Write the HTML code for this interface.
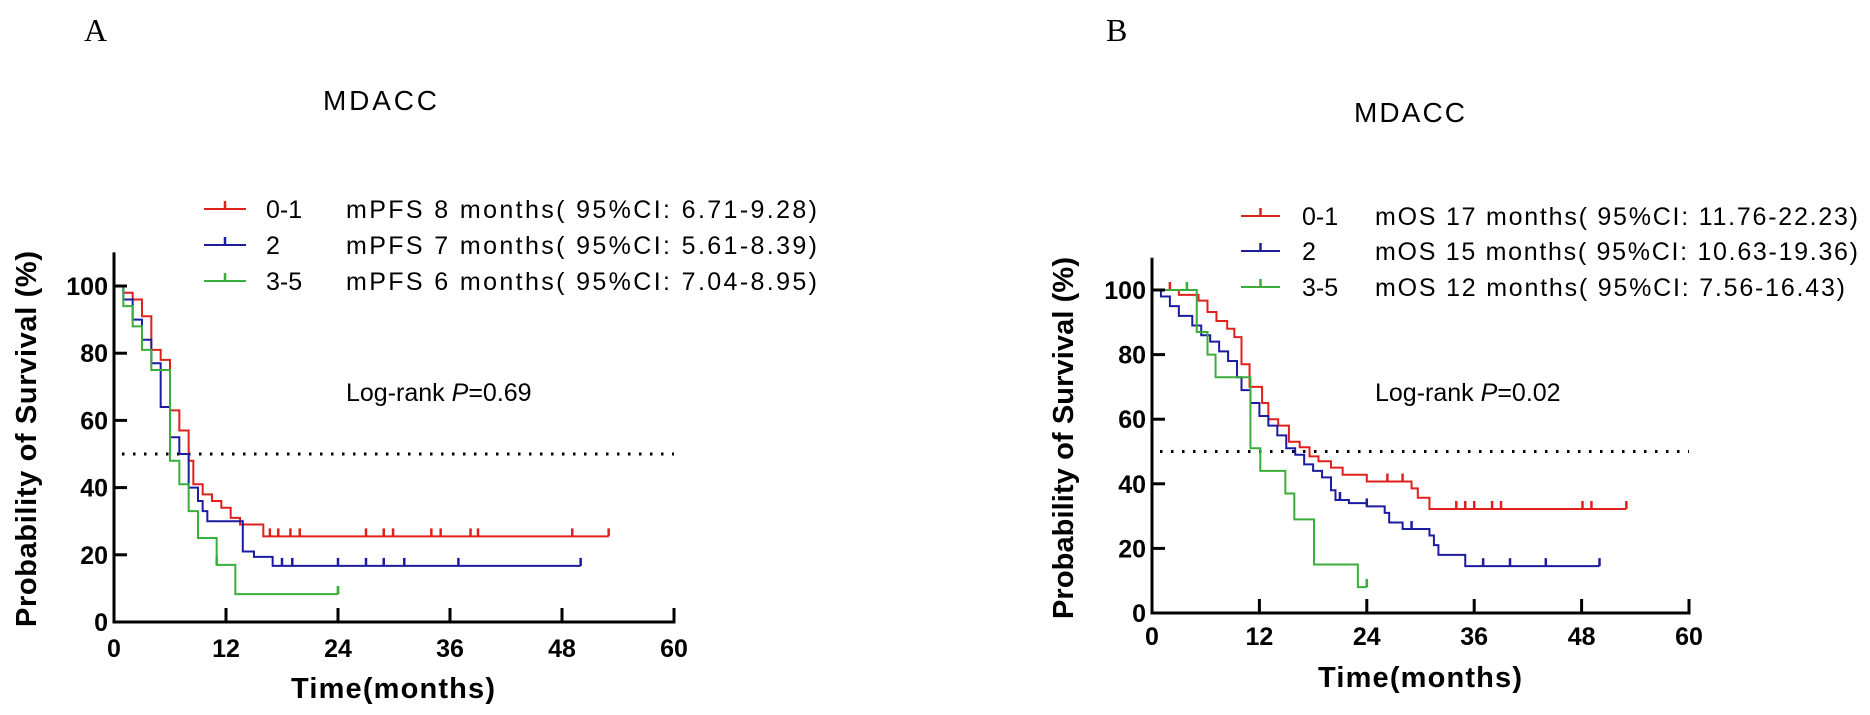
<!DOCTYPE html>
<html><head><meta charset="utf-8"><style>
html,body{margin:0;padding:0;background:#fff;}
svg{display:block;font-family:"Liberation Sans",Arial,sans-serif;}
</style></head><body>
<svg id="fig" width="1870" height="715" viewBox="0 0 1870 715">
<rect width="1870" height="715" fill="#fff"/>
<text x="84" y="41" font-family="Liberation Serif,serif" font-size="32">A</text>
<text x="1106" y="41" font-family="Liberation Serif,serif" font-size="32">B</text>
<text x="323" y="110" font-size="28" textLength="114">MDACC</text>
<text x="1354" y="122" font-size="28" textLength="111">MDACC</text>
<text x="346" y="401" font-size="25">Log-rank  <tspan font-style="italic">P</tspan>=0.69</text>
<text x="1375" y="401" font-size="25">Log-rank  <tspan font-style="italic">P</tspan>=0.02</text>
<g id="ga"></g><g id="gb"></g>
</svg>
<script>
const colors=["#e0201c","#1c1ca0","#3aae3a"];
const groups=["0-1","2","3-5"];
// Panel A (PFS)
const aRedT=[1,2,3,4,5,6,7,8,8.5,9.5,10.5,11.5,12.5,13.5,16];
const aRedS=[98,96,91,81,78,63,57,48,41,38,36,34,31,29,25.5];
const aRedC=[16.7,17.6,18.9,19.9,27,28.9,29.9,34,35,38.2,39,49.1];
const aRedEnd=53;
const aBlueT=[1,2,3,4,5,6,7,8,9,9.5,10,13.8,15,17];
const aBlueS=[96,90,84,77,64,55,50,40,36,33,30,21,19.4,16.7];
const aBlueC=[18,19.1,24,27,28.9,31.1,36.9];
const aBlueEnd=50;
const aGreenT=[1,2,3,4,6,7,8,9,11,13];
const aGreenS=[94,88,81,75,48,41,33,25,17,8.3];
const aGreenC=[11,24];
const aGreenEnd=24;
const aLegend=["mPFS 8 months( 95%CI: 6.71-9.28)","mPFS 7 months( 95%CI: 5.61-8.39)","mPFS 6 months( 95%CI: 7.04-8.95)"];
// Panel B (OS)
const bRedT=[3,5.2,6.2,7.2,8.4,9.2,10,10.9,12.3,13,14.1,15.3,16.5,17.6,18.6,20,21.3,24,29,29.7,31];
const bRedS=[98.5,96.7,93.2,90.4,88,85.4,77,70,65,60,58,53,51.3,48.5,47,45,42.8,40.7,38.6,35.7,32.2];
const bRedC=[2,26.3,28,34,35,36,38,39,48.1,49.1];
const bRedEnd=53;
const bBlueT=[1,2,3,4.5,5.5,6.5,7.5,8.5,9.5,10,11,12,13,14,15,16,17,18,19,20,20.5,22,24,26,26.5,28,31,31.5,32,35];
const bBlueS=[98,95,92,89,86,84,81,78,73,69,65,61,58,55,51,49,46,44,42,38,35,34,33,31,28,26,24,21,18,14.5];
const bBlueC=[21,24,29,37,40,44];
const bBlueEnd=50;
const bGreenT=[5,6.2,7.1,11,12.1,14.9,15.9,18.1,23];
const bGreenS=[87,80,73,51,44,37,29,15,8];
const bGreenC=[3.9,24];
const bGreenEnd=24;
const bLegend=["mOS 17 months( 95%CI: 11.76-22.23)","mOS 15 months( 95%CI: 10.63-19.36)","mOS 12 months( 95%CI: 7.56-16.43)"];
const xTicks=[0,12,24,36,48,60];
const yTicks=[0,20,40,60,80,100];

const NS="http://www.w3.org/2000/svg";
function mk(tag,attrs,parent){const e=document.createElementNS(NS,tag);for(const k in attrs)e.setAttribute(k,attrs[k]);parent.appendChild(e);return e;}

function panel(g,P,series,legend,prefix){
  const x=t=>P.x0+t*(P.x1-P.x0)/60;
  const y=s=>P.y0-s*(P.y0-P.y100)/100;
  // dotted median line
  const dl=mk('line',{x1:x(0)+8,x2:x(60),y1:y(50),y2:y(50),stroke:'#000','stroke-width':3,'stroke-dasharray':'2.5 8.5'},g);
  
  
  // series
  series.forEach((S,i)=>{
    let d='M'+x(0)+','+y(100);let cur=100;
    const pts=S.t.map((t,j)=>[t,S.s[j]]);
    pts.forEach(p=>{d+=' H'+x(p[0])+' V'+y(p[1]);cur=p[1];});
    d+=' H'+x(S.end);
    const path=mk('path',{d:d,fill:'none',stroke:colors[i],'stroke-width':2},g);
    
    
    const sv=t=>{let v=100;pts.forEach(p=>{if(p[0]<=t)v=p[1];});return v;};
    S.c.concat([S.end]).forEach(t=>{
      const c=mk('line',{x1:x(t),x2:x(t),y1:y(sv(t)),y2:y(sv(t))-8,stroke:colors[i],'stroke-width':2.5},g);
      
      
    });
  });
  // axes
  const ya=mk('line',{x1:x(0),x2:x(0),y1:y(110),y2:y(0)+1.5,stroke:'#000','stroke-width':3},g);
  
  
  const xa=mk('line',{x1:x(0)-1.5,x2:x(60)+1.5,y1:y(0),y2:y(0),stroke:'#000','stroke-width':3},g);
  
  
  yTicks.forEach(v=>{
    const tk=mk('line',{x1:x(0),x2:x(0)+13,y1:y(v),y2:y(v),stroke:'#000','stroke-width':3},g);
    
    
    const tl=mk('text',{x:x(0)-6,y:y(v)+9,'text-anchor':'end','font-size':25,'font-weight':'bold'},g);
    tl.textContent=v;
    
    
  });
  xTicks.forEach(v=>{
    const tk=mk('line',{x1:x(v),x2:x(v),y1:y(0),y2:y(0)-14,stroke:'#000','stroke-width':3},g);
    
    
    const tl=mk('text',{x:x(v),y:P.xl,'text-anchor':'middle','font-size':25,'font-weight':'bold'},g);
    tl.textContent=v;
    
    
  });
  const xt=mk('text',{x:P.xtx,y:P.xty,'text-anchor':'middle','font-size':29,'font-weight':'bold',textLength:204},g);
  xt.textContent='Time(months)';
  
  
  const yt=mk('text',{x:0,y:0,'text-anchor':'middle','font-size':29,'font-weight':'bold',textLength:P.ytl,transform:'translate('+P.ytx+','+P.yty+') rotate(-90)'},g);
  yt.textContent='Probability of Survival (%)';
  
  
  // legend
  legend.forEach((txt,i)=>{
    const ly=P.lg[i];
    const l=mk('line',{x1:P.lx0,x2:P.lx1,y1:ly,y2:ly,stroke:colors[i],'stroke-width':2},g);
    
    
    mk('line',{x1:(P.lx0+P.lx1)/2,x2:(P.lx0+P.lx1)/2,y1:ly,y2:ly-8,stroke:colors[i],'stroke-width':2.5},g);
    const gl=mk('text',{x:P.lgx,y:ly+9,'font-size':25},g);
    gl.textContent=groups[i];
    
    
    const tt=mk('text',{x:P.ltx,y:ly+9,'font-size':25,textLength:P.ltw[i]},g);
    tt.textContent=txt;
    
    
  });
}
panel(document.getElementById('ga'),
 {x0:114,x1:674,y0:622,y100:286,xl:657,xtx:393,xty:698,ytx:36,yty:439,ytl:376,lg:[209,245,281],lx0:204,lx1:246,lgx:266,ltx:346,ltw:[471,471,471]},
 [{t:aRedT,s:aRedS,c:aRedC,end:aRedEnd},{t:aBlueT,s:aBlueS,c:aBlueC,end:aBlueEnd},{t:aGreenT,s:aGreenS,c:aGreenC,end:aGreenEnd}],aLegend,'panel-a');
panel(document.getElementById('gb'),
 {x0:1152,x1:1689,y0:613,y100:290,xl:645,xtx:1420,xty:687,ytx:1073,yty:438,ytl:362,lg:[216,251,287],lx0:1241,lx1:1280,lgx:1302,ltx:1375,ltw:[483,483,470]},
 [{t:bRedT,s:bRedS,c:bRedC,end:bRedEnd},{t:bBlueT,s:bBlueS,c:bBlueC,end:bBlueEnd},{t:bGreenT,s:bGreenS,c:bGreenC,end:bGreenEnd}],bLegend,'panel-b');
</script>
</body></html>
